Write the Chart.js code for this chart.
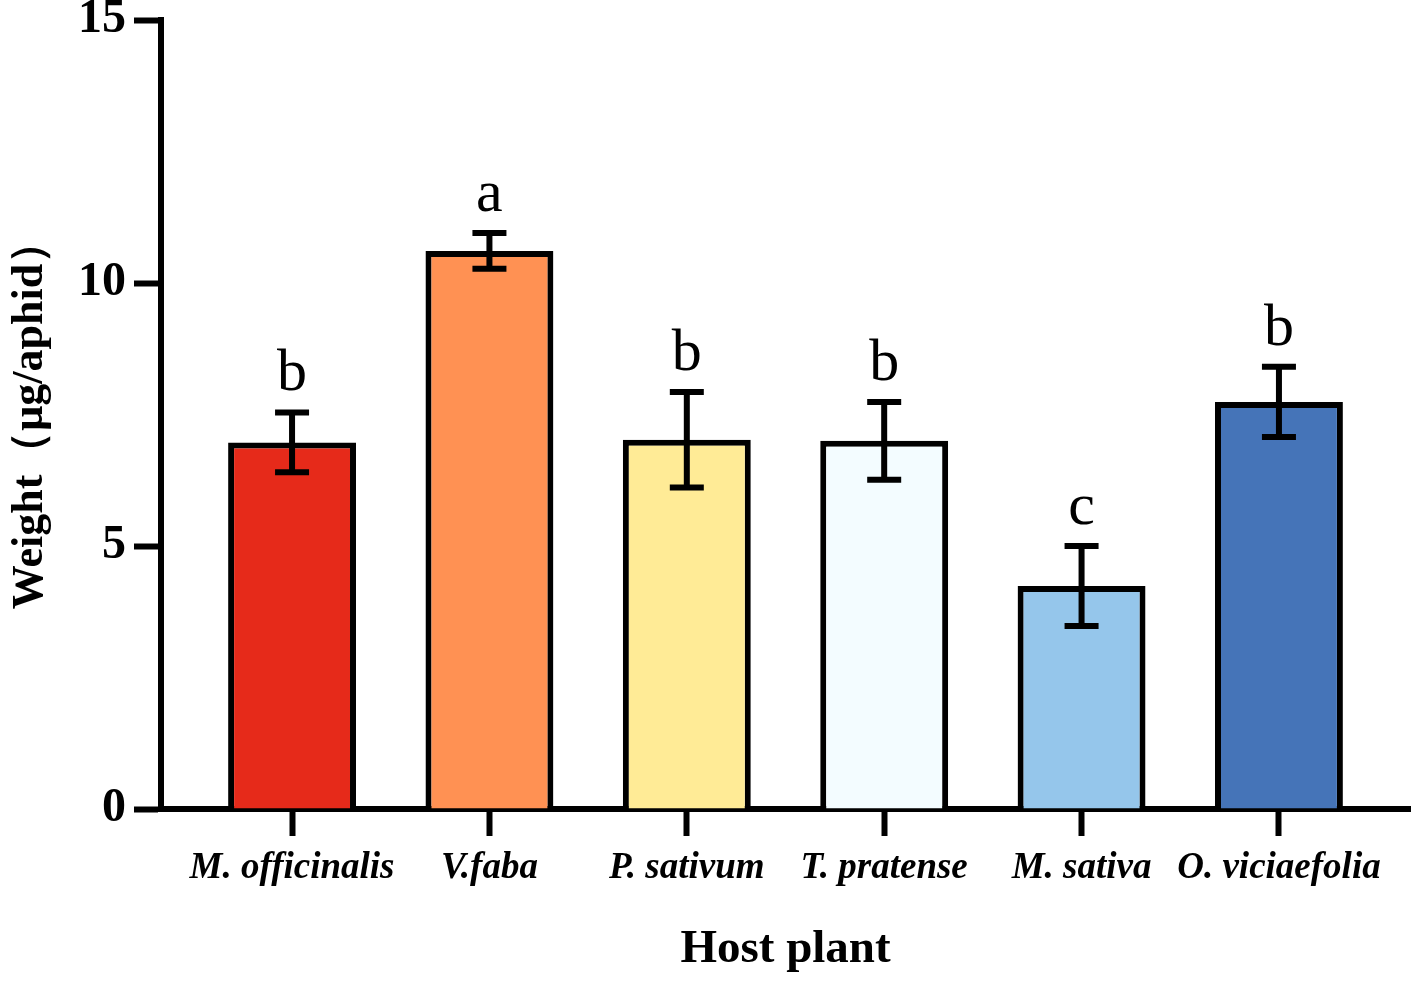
<!DOCTYPE html>
<html>
<head>
<meta charset="utf-8">
<script src="https://cdn.jsdelivr.net/npm/chart.js@4/dist/chart.umd.min.js"></script>
<style>
  html, body { margin: 0; padding: 0; background: #fff; }
  #wrap { width: 1417px; height: 984px; }
</style>
</head>
<body>
<div id="wrap"><canvas id="c" width="1417" height="984"></canvas></div>
<script>
const categories = ['M. officinalis', 'V.faba', 'P. sativum', 'T. pratense', 'M. sativa', 'O. viciaefolia'];
const means = [6.97, 10.61, 7.02, 7.0, 4.24, 7.74];
const errors = [0.57, 0.34, 0.91, 0.74, 0.76, 0.67];
const letters = ['b', 'a', 'b', 'b', 'c', 'b'];
const barColors = ['#E62A1A', '#FF9153', '#FFEB96', '#F3FCFF', '#95C6EB', '#4574B8'];
const yTicks = [0, 5, 10, 15];

const SERIF = '"Liberation Serif", "Times New Roman", serif';

const errorBarPlugin = {
  id: 'errorBars',
  afterDatasetsDraw(chart) {
    const ctx = chart.ctx;
    const meta = chart.getDatasetMeta(0);
    const y = chart.scales.y;
    ctx.save();
    ctx.strokeStyle = '#000';
    ctx.fillStyle = '#000';
    ctx.lineWidth = 6;
    ctx.lineCap = 'butt';
    meta.data.forEach((bar, i) => {
      const x = bar.x;
      const yTop = y.getPixelForValue(means[i] + errors[i]);
      const yBot = y.getPixelForValue(means[i] - errors[i]);
      const half = 17;
      ctx.beginPath();
      ctx.moveTo(x, yTop);
      ctx.lineTo(x, yBot);
      ctx.moveTo(x - half, yTop);
      ctx.lineTo(x + half, yTop);
      ctx.moveTo(x - half, yBot);
      ctx.lineTo(x + half, yBot);
      ctx.stroke();
      ctx.font = '60px ' + SERIF;
      ctx.textAlign = 'center';
      ctx.textBaseline = 'alphabetic';
      ctx.fillText(letters[i], x, yTop - 22);
    });
    ctx.restore();
  }
};

new Chart(document.getElementById('c'), {
  type: 'bar',
  data: {
    datasets: [{
      data: means.map((v, i) => ({ x: i, y: v })),
      backgroundColor: barColors,
      borderColor: '#000',
      borderWidth: 6,
      borderSkipped: 'bottom',
      barPercentage: 0.648,
      categoryPercentage: 1.0
    }]
  },
  options: {
    responsive: false,
    animation: false,
    devicePixelRatio: 1,
    layout: { padding: { top: 20, right: 7, bottom: 0, left: 0 } },
    plugins: { legend: { display: false }, tooltip: { enabled: false } },
    scales: {
      x: {
        type: 'linear',
        min: -0.664,
        max: 5.664,
        offset: false,
        z: 1,
        afterFit(s) { s.height = 175; },
        afterBuildTicks(s) { s.ticks = categories.map((_, i) => ({ value: i })); },
        grid: { drawOnChartArea: false, offset: false, drawTicks: true, tickLength: 27, tickWidth: 6, tickColor: '#000' },
        border: { display: true, width: 6, color: '#000' },
        ticks: {
          autoSkip: false,
          maxRotation: 0,
          padding: 10,
          color: '#000',
          font: { family: SERIF, size: 37, weight: 'bold', style: 'italic' },
          callback: (v, i) => categories[i]
        },
        title: {
          display: true,
          text: 'Host plant',
          color: '#000',
          font: { family: SERIF, size: 47, weight: 'bold' },
          padding: { top: 0, bottom: 6 }
        }
      },
      y: {
        min: 0,
        max: 15,
        afterFit(s) { s.width = 161; },
        afterBuildTicks(s) { s.ticks = yTicks.map(v => ({ value: v })); },
        grid: { drawOnChartArea: false, drawTicks: true, tickLength: 27, tickWidth: 6, tickColor: '#000' },
        border: { display: true, width: 6, color: '#000' },
        ticks: {
          padding: 8,
          color: '#000',
          font: { family: SERIF, size: 48, weight: 'bold', lineHeight: 0.2 }
        },
        title: {
          display: true,
          text: 'Weight（μg/aphid）',
          color: '#000',
          font: { family: SERIF, size: 44, weight: 'bold' },
          padding: { top: 4, bottom: 0 }
        }
      }
    }
  },
  plugins: [errorBarPlugin]
});
</script>
</body>
</html>
